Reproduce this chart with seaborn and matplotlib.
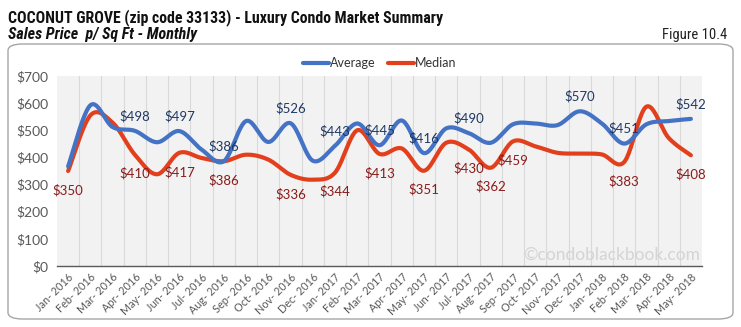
import numpy as np
import pandas as pd
import matplotlib
matplotlib.use("Agg")
import matplotlib.pyplot as plt
from matplotlib.patches import FancyBboxPatch
from matplotlib import font_manager
import seaborn as sns

months = ["Jan- 2016", "Feb- 2016", "Mar- 2016", "Apr- 2016", "May- 2016", "Jun- 2016",
          "Jul- 2016", "Aug- 2016", "Sep- 2016", "Oct- 2016", "Nov- 2016", "Dec- 2016",
          "Jan- 2017", "Feb- 2017", "Mar- 2017", "Apr- 2017", "May- 2017", "Jun- 2017",
          "Jul- 2017", "Aug- 2017", "Sep- 2017", "Oct- 2017", "Nov- 2017", "Dec- 2017",
          "Jan- 2018", "Feb- 2018", "Mar- 2018", "Apr- 2018", "May- 2018"]
average = [367, 592, 512, 498, 456, 497, 429, 386, 534, 457, 526, 388,
           443, 525, 445, 536, 416, 507, 490, 454, 522, 525, 519, 570,
           525, 451, 522, 534, 542]
median = [350, 555, 528, 410, 338, 417, 398, 386, 410, 392, 336, 318,
          344, 500, 413, 433, 351, 454, 430, 362, 459, 441, 417, 414,
          411, 383, 587, 472, 408]
avg_label_idx = [3, 5, 7, 10, 12, 14, 16, 18, 23, 25, 28]
med_label_idx = [0, 3, 5, 7, 10, 12, 14, 16, 18, 19, 20, 25, 28]
yticks = [0, 100, 200, 300, 400, 500, 600, 700]

BLUE = "#4472C4"
RED = "#E2401C"
BLUE_TXT = "#1F3864"
RED_TXT = "#8B1A1A"
GRAY_TXT = "#595959"


def smooth(y, n=24):
    y = np.asarray(y, dtype=float)
    x = np.arange(len(y), dtype=float)
    P = np.concatenate([[y[0]], y, [y[-1]]])
    X = np.concatenate([[x[0]], x, [x[-1]]])
    xs, ys = [], []
    for i in range(1, len(P) - 2):
        t = np.linspace(0, 1, n, endpoint=False)
        for arr, out in ((X, xs), (P, ys)):
            p0, p1, p2, p3 = arr[i - 1], arr[i], arr[i + 1], arr[i + 2]
            out.append(0.5 * ((2 * p1) + (-p0 + p2) * t +
                              (2 * p0 - 5 * p1 + 4 * p2 - p3) * t ** 2 +
                              (-p0 + 3 * p1 - 3 * p2 + p3) * t ** 3))
    xs = np.concatenate(xs + [[x[-1]]])
    ys = np.concatenate(ys + [[y[-1]]])
    return xs, ys


sns.set_theme(style="white")
plt.rcParams["font.family"] = ["Lato", "DejaVu Sans"]

installed = {f.name for f in font_manager.fontManager.ttflist}
narrow_family = "Roboto"
for cand in ["Liberation Sans Narrow", "Roboto Condensed", "Open Sans Condensed",
             "DejaVu Sans Condensed"]:
    if cand in installed:
        narrow_family = cand
        break

fig = plt.figure(figsize=(7.41, 3.27), dpi=100)
W, H = 741, 327

frame = FancyBboxPatch((8 / W, 8 / H), 725 / W, 275 / H,
                       boxstyle="round,pad=0,rounding_size=0.02",
                       transform=fig.transFigure, facecolor="white",
                       edgecolor="#A6A6A6", linewidth=1.0, zorder=-10)
fig.patches.append(frame)

base = 10.5 if narrow_family != "Roboto" else 9.5
fig.text(8 / W, 1 - 18 / H, "COCONUT GROVE (zip code 33133) - Luxury Condo Market Summary",
         fontsize=base * 1.085, fontweight="bold", va="center", ha="left", color="#111111",
         family=[narrow_family, "DejaVu Sans"])
fig.text(8 / W, 1 - 35 / H, "Sales Price  p/ Sq Ft - Monthly",
         fontsize=base * 1.1, fontweight="bold", fontstyle="italic", va="center", ha="left",
         color="#111111", family=[narrow_family, "DejaVu Sans"])
fig.text(727 / W, 1 - 35 / H, "Figure 10.4", fontsize=base, va="center", ha="right",
         color="#222222", family=[narrow_family, "DejaVu Sans"])

ax = fig.add_axes([57 / W, (H - 266) / H, 645 / W, 190 / H])
ax.set_facecolor("#F2F2F2")
ax.set_zorder(2)

n = len(months)
xa, ya = smooth(average)
xm, ym = smooth(median)
dfa = pd.DataFrame({"x": xa, "y": ya})
dfm = pd.DataFrame({"x": xm, "y": ym})
sns.lineplot(data=dfa, x="x", y="y", ax=ax, color=BLUE, linewidth=3, sort=False,
             label="Average", zorder=4)
sns.lineplot(data=dfm, x="x", y="y", ax=ax, color=RED, linewidth=3, sort=False,
             label="Median", zorder=3)

for b in np.arange(0.5, n - 0.5, 1.0):
    ax.axvline(b, color="#D9D9D9", linewidth=0.8, zorder=1)

ax.set_xlim(-0.5, n - 0.5)
ax.set_ylim(0, 700)
ax.set_yticks(yticks)
ax.set_yticklabels([f"${v}" for v in yticks], fontsize=10, color=GRAY_TXT)
ax.set_xticks(np.arange(n))
ax.set_xticklabels(months, rotation=45, ha="right", rotation_mode="anchor",
                   fontsize=7.8, color=GRAY_TXT)
ax.set_xlabel("")
ax.set_ylabel("")
ax.tick_params(axis="y", length=0, pad=6)
ax.tick_params(axis="x", length=0, pad=4)
ax.set_xticks(np.arange(-0.5, n, 1.0), minor=True)
ax.tick_params(axis="x", which="minor", length=4, color="#595959", width=0.8, direction="out")
for s in ["top", "right", "left"]:
    ax.spines[s].set_visible(False)
ax.spines["bottom"].set_color("#595959")
ax.spines["bottom"].set_linewidth(1.0)

for i in avg_label_idx:
    ax.annotate(f"${average[i]}", (i, average[i]), xytext=(0, 15), textcoords="offset pixels",
                ha="center", va="center", fontsize=9.5, color=BLUE_TXT, zorder=6)
for i in med_label_idx:
    ax.annotate(f"${median[i]}", (i, median[i]), xytext=(0, -19), textcoords="offset pixels",
                ha="center", va="center", fontsize=9.5, color=RED_TXT, zorder=6)

ax.text(0.997, 0.06, "\u00a9condoblackbook.com", transform=ax.transAxes, ha="right",
        va="center", fontsize=12.5, color="#D4D4D4", zorder=2)

leg = ax.legend(loc="lower center", bbox_to_anchor=(0.5, 1.01), ncol=2, frameon=False,
                fontsize=9, handlelength=2.1, columnspacing=1.0, handletextpad=0.05,
                borderaxespad=0)
for t in leg.get_texts():
    t.set_color("#333333")

fig.savefig("out.png", dpi=100, facecolor="white")
